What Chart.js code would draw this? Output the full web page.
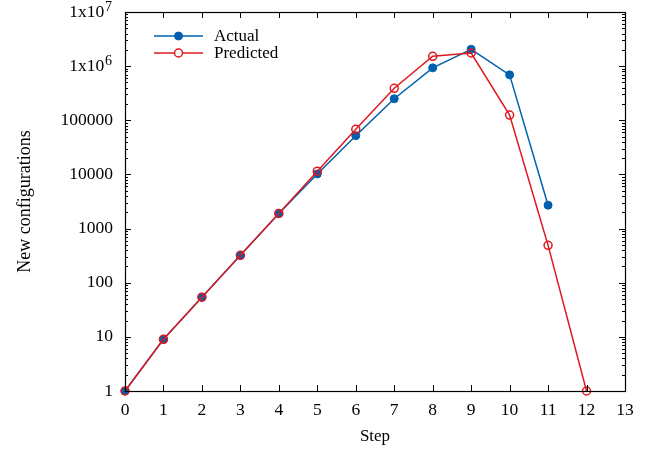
<!DOCTYPE html>
<html><head><meta charset="utf-8">
<script src="https://cdn.jsdelivr.net/npm/chart.js@4/dist/chart.umd.min.js"></script>
<style>html,body{margin:0;padding:0;background:#fff}#wrap{width:662px;height:455px}</style>
</head><body><div id="wrap"><canvas id="c" width="662" height="455"></canvas></div>
<script>
const actualSteps = [0, 1, 2, 3, 4, 5, 6, 7, 8, 9, 10, 11];
const actualValues = [1, 9, 54, 320, 1900, 10200, 52000, 250000, 930000, 2050000, 690000, 2700];
const predictedSteps = [0, 1, 2, 3, 4, 5, 6, 7, 8, 9, 10, 11, 12];
const predictedValues = [1, 9, 54, 320, 1900, 11500, 68000, 390000, 1520000, 1750000, 125000, 490, 1];
const xTickValues = [0, 1, 2, 3, 4, 5, 6, 7, 8, 9, 10, 11, 12, 13];
const yTickValues = [1, 10, 100, 1000, 10000, 100000, 1000000, 10000000];
const yTickLabels = ['1', '10', '100', '1000', '10000', '100000', '1x10', '1x10'];
const yTickExponents = ['', '', '', '', '', '', '6', '7'];
const seriesNames = ['Actual', 'Predicted'];

const FONT = "'Liberation Serif', 'Times New Roman', serif";
const FS = 17.5;
const BLUE = '#0060ad', RED = '#dd181f';

const framePlugin = {
  id: 'frame',
  afterDraw(chart) {
    const {ctx, chartArea: a, scales: {x, y}} = chart;
    ctx.save();
    ctx.strokeStyle = '#000';
    ctx.lineWidth = 1;
    ctx.beginPath();
    xTickValues.forEach(v => {
      const px = Math.round(x.getPixelForValue(v)) + 0.5;
      ctx.moveTo(px, a.bottom); ctx.lineTo(px, a.bottom - 6);
      ctx.moveTo(px, a.top); ctx.lineTo(px, a.top + 6);
    });
    for (let d = 0; d < 7; d++) {
      for (let m = 1; m <= 10; m++) {
        const v = Math.pow(10, d) * m;
        const len = (m === 1 || m === 10) ? 6 : 3;
        const py = Math.round(y.getPixelForValue(v)) + 0.5;
        ctx.moveTo(a.left, py); ctx.lineTo(a.left + len, py);
        ctx.moveTo(a.right, py); ctx.lineTo(a.right - len, py);
      }
    }
    ctx.stroke();
    ctx.lineWidth = 1.2;
    ctx.strokeRect(Math.round(a.left) + 0.5, Math.round(a.top) + 0.5, Math.round(a.right - a.left), Math.round(a.bottom - a.top));
    // exponents of the y tick labels
    ctx.fillStyle = '#000';
    ctx.font = '14px ' + FONT;
    ctx.textAlign = 'left';
    ctx.textBaseline = 'alphabetic';
    yTickValues.forEach((v, i) => {
      if (!yTickExponents[i]) return;
      const py = y.getPixelForValue(v);
      ctx.fillText(yTickExponents[i], a.left - 20, py - 1);
    });
    // legend
    ctx.font = '17px ' + FONT;
    ctx.textBaseline = 'middle';
    ctx.textAlign = 'left';
    chart.data.datasets.forEach((ds, i) => {
      const ly = a.top + 24 + i * 17;
      const x0 = a.left + 29, x1 = a.left + 78, xm = (x0 + x1) / 2;
      ctx.strokeStyle = ds.borderColor;
      ctx.lineWidth = ds.borderWidth;
      ctx.beginPath(); ctx.moveTo(x0, ly); ctx.lineTo(x1, ly); ctx.stroke();
      ctx.beginPath(); ctx.arc(xm, ly, ds.pointRadius, 0, Math.PI * 2);
      ctx.fillStyle = '#fff'; ctx.fill();
      if (ds.pointBackgroundColor !== 'rgba(0,0,0,0)') {
        ctx.fillStyle = ds.pointBackgroundColor; ctx.fill();
      }
      ctx.strokeStyle = ds.pointBorderColor; ctx.lineWidth = ds.pointBorderWidth; ctx.stroke();
      ctx.fillStyle = '#000';
      ctx.fillText(ds.label, a.left + 89, ly + 1);
    });
    ctx.restore();
  }
};

new Chart(document.getElementById('c'), {
  type: 'line',
  data: {
    datasets: [
      {
        label: seriesNames[0],
        data: actualSteps.map((s, i) => ({x: s, y: actualValues[i]})),
        borderColor: BLUE, borderWidth: 1.5,
        pointRadius: 4, pointBackgroundColor: BLUE, pointBorderColor: BLUE, pointBorderWidth: 1,
        tension: 0, clip: false, order: 2
      },
      {
        label: seriesNames[1],
        data: predictedSteps.map((s, i) => ({x: s, y: predictedValues[i]})),
        borderColor: RED, borderWidth: 1.5,
        pointRadius: 4, pointBackgroundColor: 'rgba(0,0,0,0)', pointBorderColor: RED, pointBorderWidth: 1.5,
        tension: 0, clip: false, order: 1
      }
    ]
  },
  options: {
    responsive: false,
    devicePixelRatio: 1,
    animation: false,
    layout: {padding: {left: 0, right: 37, top: 12, bottom: 0}},
    plugins: {legend: {display: false}, tooltip: {enabled: false}},
    scales: {
      x: {
        type: 'linear', min: 0, max: 13,
        afterBuildTicks: s => { s.ticks = xTickValues.map(v => ({value: v})); },
        afterFit: s => { s.height = 64; s.paddingLeft = 0; s.paddingRight = 0; s.paddingTop = 0; s.paddingBottom = 0; },
        grid: {display: false, drawTicks: false},
        border: {display: false},
        ticks: {color: '#000', font: {family: FONT, size: FS}, padding: 9, maxRotation: 0, autoSkip: false},
        title: {display: true, text: 'Step', color: '#000', font: {family: FONT, size: 17}, padding: {top: 0, bottom: 8}}
      },
      y: {
        type: 'logarithmic', min: 1, max: 10000000,
        afterBuildTicks: s => { s.ticks = yTickValues.map(v => ({value: v})); },
        afterFit: s => { s.width = 125; s.paddingTop = 0; s.paddingBottom = 0; s.paddingLeft = 0; s.paddingRight = 0; },
        grid: {display: false, drawTicks: false},
        border: {display: false},
        ticks: {
          color: '#000', font: {family: FONT, size: FS}, padding: 12, autoSkip: false,
          callback: v => { const i = yTickValues.indexOf(v); return i < 0 ? '' : (yTickExponents[i] ? yTickLabels[i] + '\u2007' : yTickLabels[i]); }
        },
        title: {display: true, text: 'New configurations', color: '#000', font: {family: FONT, size: 18}, padding: {top: 14, bottom: 0}}
      }
    }
  },
  plugins: [framePlugin]
});
</script>
</body></html>
